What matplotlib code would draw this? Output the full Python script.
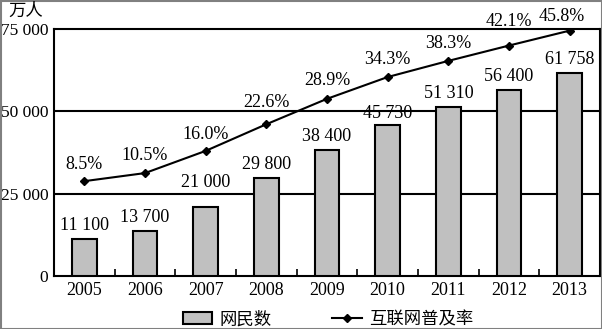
import numpy as np
import matplotlib
matplotlib.use("Agg")
import matplotlib.pyplot as plt
from matplotlib.patches import Rectangle
from matplotlib.lines import Line2D

plt.rcParams["font.family"] = ["Liberation Serif", "Noto Sans CJK SC"]

years = ["2005", "2006", "2007", "2008", "2009", "2010", "2011", "2012", "2013"]
netizens = [11100, 13700, 21000, 29800, 38400, 45730, 51310, 56400, 61758]
penetration = [8.5, 10.5, 16.0, 22.6, 28.9, 34.3, 38.3, 42.1, 45.8]
y_ticks = [0, 25000, 50000, 75000]

# pixel offsets of the value labels above the bars and the line points
bar_offsets = [5, 5, 16, 5, 5, 3, 5, 5, 5]
pct_offsets = [(0, 17), (0, 18), (0, 16), (0, 22), (0, 18), (0, 18),
               (0, 17), (0, 24), (-8, 14)]


def fmt_num(v):
    return f"{v:,}".replace(",", " ")


fig = plt.figure(figsize=(6.02, 3.29), dpi=100)
ax = fig.add_axes([54 / 602, 53 / 329, 546 / 602, 247 / 329])
x = np.arange(len(years))

ax.bar(x, netizens, width=0.41, color="#c0c0c0", edgecolor="black",
       linewidth=1.5, zorder=3)
for xi, v, dy in zip(x, netizens, bar_offsets):
    ax.annotate(fmt_num(v), (xi, v), xytext=(0, dy), textcoords="offset pixels",
                ha="center", va="bottom", fontsize=13)

ax.set_xlim(-0.5, len(years) - 0.5)
ax.set_ylim(0, 75000)
ax.set_yticks(y_ticks)
ax.set_yticklabels([fmt_num(v) for v in y_ticks], fontsize=12.5)
ax.set_xticks(x)
ax.set_xticklabels(years, fontsize=13)
ax.set_xticks(np.arange(0.5, len(years) - 1, 1), minor=True)
ax.tick_params(axis="both", which="major", length=0, pad=4)
ax.tick_params(axis="x", which="minor", direction="in", length=5, width=1.2)
for yv in y_ticks[1:-1]:
    ax.axhline(yv, color="black", lw=1.5, zorder=1)
for s in ax.spines.values():
    s.set_linewidth(1.5)

ax2 = ax.twinx()
ax2.set_ylim(-15, 46.2)
ax2.set_yticks([])
ax2.plot(x, penetration, color="black", lw=1.5, marker="D", markersize=4.5,
         zorder=4)
for xi, p, (dx, dy) in zip(x, penetration, pct_offsets):
    ax2.annotate(f"{p:.1f}%", (xi, p), xytext=(dx, dy),
                 textcoords="offset pixels", ha="center", va="center",
                 fontsize=13)
for s in ax2.spines.values():
    s.set_visible(False)

fig.text(8 / 602, 1 - 12 / 329, "万人", fontsize=12.5, va="center", ha="left")

handles = [
    Rectangle((0, 0), 1, 1, facecolor="#c0c0c0", edgecolor="black", lw=1.5),
    Line2D([], [], color="black", lw=1.5, marker="D", markersize=4.5),
]
fig.legend(handles, ["网民数", "互联网普及率"], loc="center",
           bbox_to_anchor=(328 / 602, 1 - 320 / 329), ncol=2, frameon=False,
           fontsize=12.5, handlelength=1.7, columnspacing=3.5,
           handletextpad=0.4)

fig.add_artist(Rectangle((0.5 / 602, 0.5 / 329), 1 - 1 / 602, 1 - 1 / 329,
                         transform=fig.transFigure, fill=False,
                         edgecolor="#808080", lw=1.5))

fig.savefig("out.png", dpi=100)
